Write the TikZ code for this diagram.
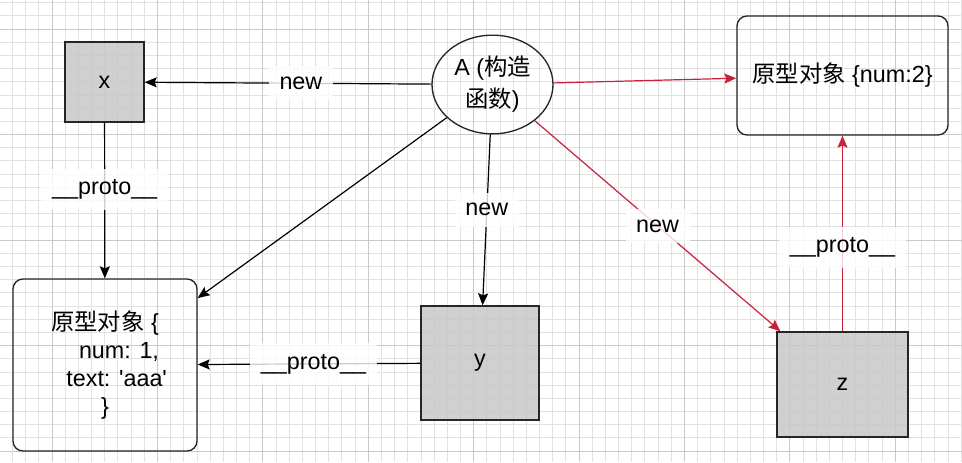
\documentclass[tikz,border=0pt]{standalone}
\usepackage{fontspec}
\setmainfont{Liberation Sans}
\newfontfamily\cjk{Noto Sans CJK SC}
\usetikzlibrary{arrows.meta,shapes.geometric}
\definecolor{gridminor}{HTML}{E2E2E2}
\definecolor{gridmajor}{HTML}{C9C9C9}
\definecolor{boxgray}{HTML}{C8C8C8}
\definecolor{linkred}{HTML}{C8223A}
\begin{document}
\begin{tikzpicture}[x=0.75pt,y=-0.75pt,
	every node/.style={font=\fontsize{17.5}{21}\selectfont},
	obj/.style={draw=black!85,line width=1pt,fill=boxgray,fill opacity=0.85,text opacity=1},
	proto/.style={draw=black!85,line width=1pt,rounded corners=7.5pt,align=center},
	link/.style={line width=0.9pt,-{Stealth[length=9pt,width=7.5pt,inset=1.5pt]}},
	lbl/.style={fill=white,fill opacity=0.8,text opacity=1,text=black,inner xsep=8pt,inner ysep=8pt}]
		% background grid
		\useasboundingbox (0,0) rectangle (962,462);
		\fill[white] (0,0) rectangle (962,462);
		\foreach \i in {0,...,73} \draw[gridminor,line width=0.6pt] ({-0.7+13.175*\i},0) -- ++(0,462);
		\foreach \j in {0,...,35} \draw[gridminor,line width=0.6pt] (0,{2.6+13.19*\j}) -- ++(962,0);
		\foreach \i in {0,...,8} \draw[gridmajor,line width=0.75pt] ({52+105.4*\i},0) -- ++(0,462);
		\foreach \j in {0,...,4} \draw[gridmajor,line width=0.75pt] (0,{29+105.5*\j}) -- ++(962,0);
		% objects
		\node[obj,minimum width=59.25pt,minimum height=60pt] (x) at (104.5,82) {x};
		\node[obj,minimum width=88.5pt,minimum height=85.5pt] (y) at (480,363) {y};
		\node[obj,minimum width=98.25pt,minimum height=78.75pt] (z) at (842.5,384.5) {z};
		\node[draw=black!85,line width=1pt,ellipse,minimum width=90.75pt,minimum height=74pt,inner sep=0pt,align=center] (A) at (492.5,84.5) {A ({\cjk 构造}\\[3pt]{\cjk 函数})};
		\node[proto,minimum width=158.25pt,minimum height=89.25pt] (p2) at (842.5,75.5) {{\cjk 原型对象} \{num:2\}};
		\node[proto,minimum width=138pt,minimum height=129pt] (p1) at (105,365) {{\cjk 原型对象} \{\\\hspace*{1.2em}num: 1,\\\hspace*{1em}text: \textquotesingle aaa\textquotesingle\\\}};
		% links
		\draw[link] (A) -- node[lbl,pos=0.455] {new} (x);
		\draw[link] (x) -- node[lbl,pos=0.43] {\_\_proto\_\_} (p1);
		\draw[link] (A) -- (p1);
		\draw[link] (A) -- node[lbl,pos=0.44] {new} (y);
		\draw[link] (y) -- node[lbl,pos=0.48] {\_\_proto\_\_} (p1);
		\draw[link,linkred] (A) -- (p2);
		\draw[link,linkred] (A) -- node[lbl,pos=0.5] {new} (z);
		\draw[link,linkred] (z) -- node[lbl,pos=0.43] {\_\_proto\_\_} (p2);
		\end{tikzpicture}
\end{document}
